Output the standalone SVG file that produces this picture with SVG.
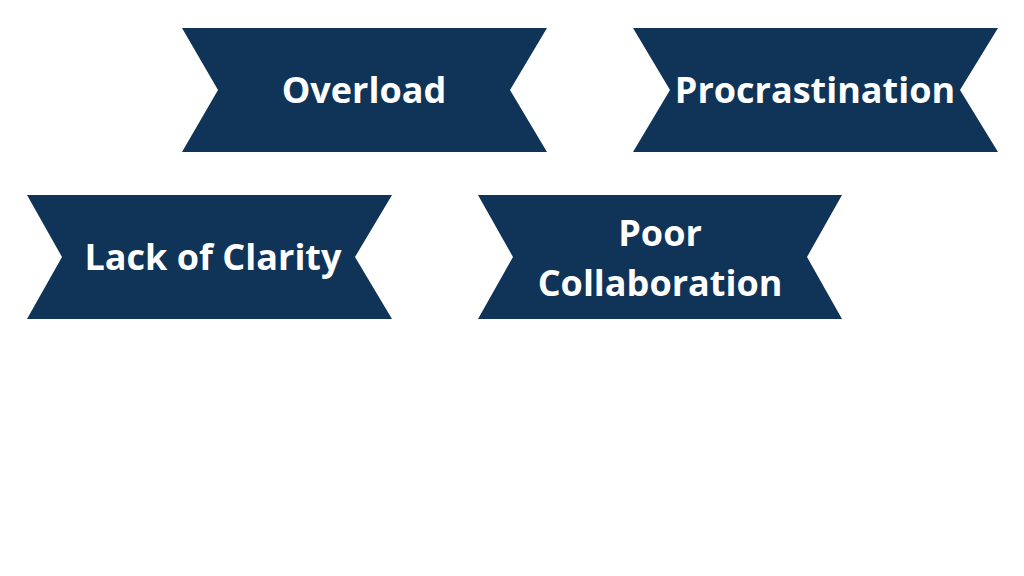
<svg xmlns="http://www.w3.org/2000/svg" width="1024" height="576" viewBox="0 0 1024 576">
<style>
.b{fill:#0f3457}
.t{fill:#ffffff;font-family:"Open Sans","Liberation Sans",sans-serif;font-weight:bold;font-size:36px;text-anchor:middle}
</style>
<rect width="1024" height="576" fill="#ffffff"/>
<g id="overload">
<polygon class="b" points="182,28 547,28 510,90 547,152 182,152 218,90"/>
<text class="t" x="364" y="103">Overload</text>
</g>
<g id="procrastination">
<polygon class="b" points="633,28 998,28 960,90 998,152 633,152 670,90"/>
<text class="t" x="815" y="103">Procrastination</text>
</g>
<g id="lack-of-clarity">
<polygon class="b" points="27,195 392,195 355,257 392,319 27,319 62,257"/>
<text class="t" x="213" y="270">Lack of Clarity</text>
</g>
<g id="poor-collaboration">
<polygon class="b" points="478,195 842,195 807,257 842,319 478,319 513,257"/>
<text class="t" x="660" y="246">Poor</text>
<text class="t" x="660" y="296">Collaboration</text>
</g>
<g id="connectors"/>
</svg>
